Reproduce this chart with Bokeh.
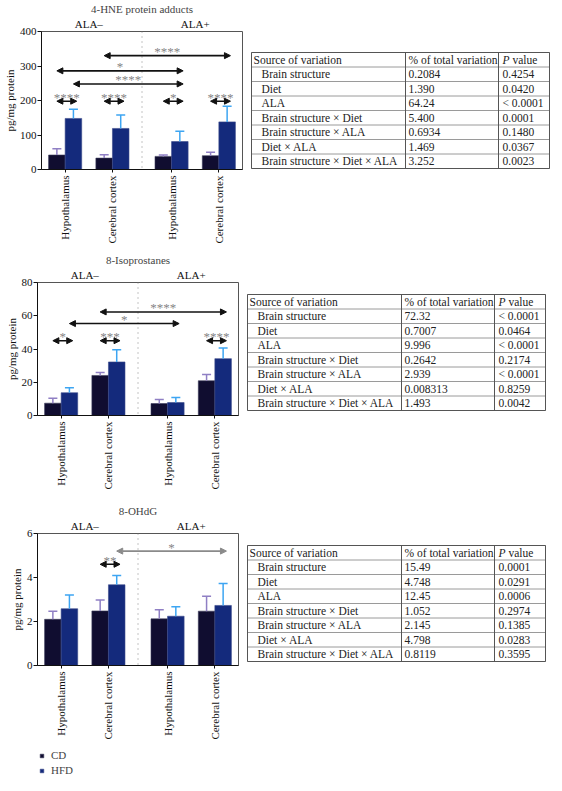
import math
from bokeh.plotting import figure
from bokeh.models import (ColumnDataSource, Range1d, LinearAxis, FixedTicker, Span, Whisker,
                          TeeHead, Arrow, NormalHead, Legend, LegendItem)
from bokeh.layouts import column, row
from bokeh.embed import file_html
from bokeh.resources import INLINE
from bokeh.core.properties import value

# ---------------- data ----------------
regions = ["Hypothalamus", "Cerebral cortex", "Hypothalamus", "Cerebral cortex"]
ala_labels = ["ALA–", "ALA+"]
ala_index = [0, 0, 1, 1]
diets = ["CD", "HFD"]

hne_title = "4-HNE protein adducts"
hne_cd = [42, 33, 38, 40]
hne_cd_sem = [18, 10, 4, 10]
hne_hfd = [148, 119, 81, 138]
hne_hfd_sem = [27, 39, 30, 45]
hne_yticks = [0, 100, 200, 300, 400]
hne_comparisons = [
    (0, "CD", 0, "HFD", 198, "****"),
    (1, "CD", 1, "HFD", 198, "****"),
    (2, "CD", 2, "HFD", 198, "*"),
    (3, "CD", 3, "HFD", 198, "****"),
    (0, "HFD", 2, "HFD", 248, "****"),
    (0, "CD", 2, "HFD", 286, "*"),
    (1, "CD", 3, "HFD", 330, "****"),
]

iso_title = "8-Isoprostanes"
iso_cd = [7.4, 24.1, 7.2, 20.9]
iso_cd_sem = [3.0, 1.8, 2.4, 3.8]
iso_hfd = [13.7, 32.2, 7.8, 34.2]
iso_hfd_sem = [3.0, 7.4, 3.1, 6.4]
iso_yticks = [0, 20, 40, 60, 80]
iso_comparisons = [
    (0, "CD", 0, "HFD", 45, "*"),
    (1, "CD", 1, "HFD", 45, "***"),
    (3, "CD", 3, "HFD", 45, "****"),
    (0, "HFD", 2, "HFD", 55.3, "*"),
    (1, "CD", 3, "HFD", 62.3, "****"),
]

ohdg_title = "8-OHdG"
ohdg_cd = [2.10, 2.48, 2.12, 2.47]
ohdg_cd_sem = [0.37, 0.50, 0.41, 0.68]
ohdg_hfd = [2.58, 3.67, 2.24, 2.73]
ohdg_hfd_sem = [0.62, 0.42, 0.43, 1.00]
ohdg_yticks = [0, 2, 4, 6]
ohdg_comparisons = [
    (1, "CD", 1, "HFD", 4.6, "**"),
    (1, "HFD", 3, "HFD", 5.2, "*"),
]

table_header = ["Source of variation", "% of total variation", "P", "value"]
sources = ["Brain structure", "Diet", "ALA", "Brain structure × Diet",
           "Brain structure × ALA", "Diet × ALA", "Brain structure × Diet × ALA"]
hne_pct = ["0.2084", "1.390", "64.24", "5.400", "0.6934", "1.469", "3.252"]
hne_p = ["0.4254", "0.0420", "< 0.0001", "0.0001", "0.1480", "0.0367", "0.0023"]
iso_pct = ["72.32", "0.7007", "9.996", "0.2642", "2.939", "0.008313", "1.493"]
iso_p = ["< 0.0001", "0.0464", "< 0.0001", "0.2174", "< 0.0001", "0.8259", "0.0042"]
ohdg_pct = ["15.49", "4.748", "12.45", "1.052", "2.145", "4.798", "0.8119"]
ohdg_p = ["0.0001", "0.0291", "0.0006", "0.2974", "0.1385", "0.0283", "0.3595"]

# ---------------- style ----------------
FONT = "Liberation Serif"
CD_FILL = "#100d30"
HFD_FILL = "#142a7c"
CD_LINE = "#3a3a5a"
HFD_LINE = "#3a4a8a"
CD_ERR = "#8f7fc4"
HFD_ERR = "#3da5f2"
STAR = "#858585"
GAP = 0.25
BAR_W = 0.35
FRAME_W = 201
TOP = 28
LEFT = 37
RIGHT = 8
TABLE_W = 300
COL_W = [154, 93, 51]
ROW_H = 14.5
TABLE_FONT = "11.5px"


def centers():
    return [i + GAP * ala_index[i] for i in range(len(regions))]


def bar_x(i, diet):
    c = centers()[i]
    return c - BAR_W / 2 if diet == "CD" else c + BAR_W / 2


def make_chart(title, cd, cd_sem, hfd, hfd_sem, yticks, comps, frame_h, bottom,
               arrow_colors=None):
    ymax = yticks[-1]
    p = figure(frame_width=FRAME_W, frame_height=frame_h, min_border_left=LEFT,
               min_border_right=RIGHT, min_border_top=TOP, min_border_bottom=bottom,
               x_range=Range1d(-0.5, 3.75), y_range=Range1d(0, ymax),
               x_axis_type=None, y_axis_type=None, toolbar_location=None,
               output_backend="svg", title=title)
    p.title.text_font = FONT
    p.title.text_font_size = "11px"
    p.title.text_font_style = "normal"
    p.title.align = "center"
    p.title.standoff = 0
    p.title.offset = 0
    p.outline_line_color = "#555555"
    p.background_fill_color = "white"
    p.border_fill_color = "white"

    cs = centers()
    gcent = [(cs[0] + cs[1]) / 2, (cs[2] + cs[3]) / 2]
    ala_axis = LinearAxis(ticker=FixedTicker(ticks=gcent),
                          major_label_overrides={gcent[0]: ala_labels[0], gcent[1]: ala_labels[1]},
                          axis_line_color=None, major_tick_line_color=None,
                          minor_tick_line_color=None, major_tick_out=0, major_tick_in=0,
                          minor_tick_out=0, minor_tick_in=0, major_label_standoff=2,
                          major_label_text_font=FONT, major_label_text_font_size="11px",
                          major_label_text_color="#111111")
    p.add_layout(ala_axis, "above")

    yaxis = LinearAxis(ticker=FixedTicker(ticks=yticks), axis_label="pg/mg protein",
                       major_tick_out=4, major_tick_in=0, minor_tick_out=0, minor_tick_in=0,
                       minor_tick_line_color=None, major_label_standoff=1,
                       axis_label_standoff=1, major_label_text_font=FONT,
                       major_label_text_font_size="11px", axis_label_text_font=FONT,
                       axis_label_text_font_size="11px", axis_label_text_font_style="normal",
                       major_label_text_color="#111111", axis_label_text_color="#111111",
                       axis_line_color="#111111", major_tick_line_color="#111111")
    p.add_layout(yaxis, "left")

    xaxis = LinearAxis(ticker=FixedTicker(ticks=cs),
                       major_label_overrides={c: r for c, r in zip(cs, regions)},
                       major_label_orientation=math.pi / 2, major_tick_out=3, major_tick_in=0,
                       minor_tick_out=0, minor_tick_in=0, minor_tick_line_color=None,
                       major_label_standoff=3, major_label_text_font=FONT,
                       major_label_text_font_size="11px", major_label_text_color="#111111",
                       axis_line_color="#111111", major_tick_line_color="#111111")
    p.add_layout(xaxis, "below")

    p.add_layout(Span(location=(cs[1] + cs[2]) / 2, dimension="height", line_color="#888888",
                      line_dash="1 4", line_width=1))

    src_cd = ColumnDataSource(dict(x=[bar_x(i, "CD") for i in range(4)], top=cd,
                                   upper=[v + e for v, e in zip(cd, cd_sem)]))
    src_hfd = ColumnDataSource(dict(x=[bar_x(i, "HFD") for i in range(4)], top=hfd,
                                    upper=[v + e for v, e in zip(hfd, hfd_sem)]))
    p.vbar(x="x", top="top", bottom=0, width=BAR_W, source=src_cd,
           fill_color=CD_FILL, line_color=CD_LINE, line_width=0.6)
    p.vbar(x="x", top="top", bottom=0, width=BAR_W, source=src_hfd,
           fill_color=HFD_FILL, line_color=HFD_LINE, line_width=0.6)
    for src, col in ((src_cd, CD_ERR), (src_hfd, HFD_ERR)):
        w = Whisker(base="x", upper="upper", lower="top", source=src, line_color=col,
                    line_width=1.5, upper_head=TeeHead(size=9, line_color=col, line_width=1.5),
                    lower_head=None)
        w.level = "overlay"
        p.add_layout(w)

    if arrow_colors is None:
        arrow_colors = ["#111111"] * len(comps)
    by_color = {}
    for comp, col in zip(comps, arrow_colors):
        by_color.setdefault(col, []).append(comp)
    for col, cl in by_color.items():
        xs = [bar_x(c[0], c[1]) for c in cl]
        xe = [bar_x(c[2], c[3]) + 0.07 for c in cl]
        ys = [c[4] for c in cl]
        src = ColumnDataSource(dict(xs=xs, xe=xe, y=ys, mid=[(a + b) / 2 for a, b in zip(xs, xe)],
                                    label=[c[5] for c in cl]))
        p.add_layout(Arrow(x_start="xs", y_start="y", x_end="xe", y_end="y", source=src,
                           line_color=col, line_width=1.6,
                           start=NormalHead(size=6, fill_color=col, line_color=col),
                           end=NormalHead(size=6, fill_color=col, line_color=col)))
        p.text(x="mid", y="y", text="label", source=src, text_align="center",
               text_baseline="alphabetic", text_font=value(FONT), text_font_size="13px",
               text_color=STAR, y_offset=-4)
    return p, src_cd, src_hfd


def make_table(pct, pvals, frame_h, bottom, top):
    n = len(sources) + 1
    off = (top - TOP) / ROW_H
    t = figure(frame_width=TABLE_W, frame_height=frame_h, min_border_left=0,
               min_border_right=0, min_border_top=TOP, min_border_bottom=bottom,
               x_range=Range1d(0, TABLE_W),
               y_range=Range1d(frame_h / ROW_H - off, -off),
               x_axis_type=None, y_axis_type=None, toolbar_location=None,
               output_backend="svg")
    t.outline_line_color = None
    x0 = 1
    xs = [x0, x0 + COL_W[0], x0 + COL_W[0] + COL_W[1], x0 + sum(COL_W)]
    t.segment(x0=[xs[0]] * (n + 1), y0=list(range(n + 1)), x1=[xs[3]] * (n + 1),
              y1=list(range(n + 1)), line_color="#9a9a9a", line_width=1)
    t.segment(x0=[xs[0], xs[0]], y0=[0, n], x1=[xs[3], xs[3]], y1=[0, n],
              line_color="#555555", line_width=1)
    t.segment(x0=xs, y0=[0] * 4, x1=xs, y1=[n] * 4, line_color="#555555", line_width=1)
    ry = [i + 1.5 for i in range(len(sources))]
    common = dict(text_baseline="middle", text_align="left", text_font=value(FONT),
                  text_font_size=TABLE_FONT, text_color="#222222")
    t.text(x=[xs[0] + 2, xs[1] + 3, xs[2] + 4 + 10], y=[0.5, 0.5, 0.5],
           text=[table_header[0], table_header[1], table_header[3]], **common)
    t.text(x=[xs[2] + 4], y=[0.5], text=[table_header[2]], text_font_style="italic", **common)
    t.text(x=[xs[0] + 10] * len(sources), y=ry, text=sources, **common)
    t.text(x=[xs[1] + 3] * len(sources), y=ry, text=pct, **common)
    t.text(x=[xs[2] + 4] * len(sources), y=ry, text=pvals, **common)
    return t


def make_legend(src_cd, src_hfd):
    # legend keys reuse the CD/HFD sources; the view range keeps the points themselves hidden
    lf = figure(frame_width=FRAME_W, frame_height=34, min_border_left=LEFT,
                min_border_right=RIGHT, min_border_top=0, min_border_bottom=0,
                x_range=Range1d(100, 101), y_range=Range1d(0, 1),
                x_axis_type=None, y_axis_type=None, toolbar_location=None,
                output_backend="svg")
    lf.outline_line_color = None
    r_cd = lf.scatter(x="x", y="top", source=src_cd, marker="square", size=9,
                      fill_color=CD_FILL, line_color=CD_LINE, line_width=0.6)
    r_hfd = lf.scatter(x="x", y="top", source=src_hfd, marker="square", size=9,
                       fill_color=HFD_FILL, line_color=HFD_LINE, line_width=0.6)
    lg = Legend(items=[LegendItem(label=diets[0], renderers=[r_cd], index=0),
                       LegendItem(label=diets[1], renderers=[r_hfd], index=0)],
                location="bottom_left", orientation="vertical", margin=0, padding=1,
                spacing=3, glyph_width=9, glyph_height=9, label_standoff=5,
                label_text_font=FONT, label_text_font_size="11px",
                border_line_color=None, background_fill_alpha=0)
    lf.add_layout(lg)
    return lf


B1 = 248 - TOP - 138
B2 = 248 - TOP - 133
B3 = 0
c1, _, _ = make_chart(hne_title, hne_cd, hne_cd_sem, hne_hfd, hne_hfd_sem, hne_yticks,
                      hne_comparisons, 138, B1)
t1 = make_table(hne_pct, hne_p, 138, B1, 49)
c2, _, _ = make_chart(iso_title, iso_cd, iso_cd_sem, iso_hfd, iso_hfd_sem, iso_yticks,
                      iso_comparisons, 133, B2)
t2 = make_table(iso_pct, iso_p, 133, B2, 40)
c3, s_cd, s_hfd = make_chart(ohdg_title, ohdg_cd, ohdg_cd_sem, ohdg_hfd, ohdg_hfd_sem,
                             ohdg_yticks, ohdg_comparisons, 132, B3,
                             arrow_colors=["#111111", "#8a8a8a"])
t3 = make_table(ohdg_pct, ohdg_p, 132, B3, 40)
lf = make_legend(s_cd, s_hfd)

layout = column(row(c1, t1), row(c2, t2), row(c3, t3), lf)
open("out.html", "w").write(file_html(layout, INLINE))
